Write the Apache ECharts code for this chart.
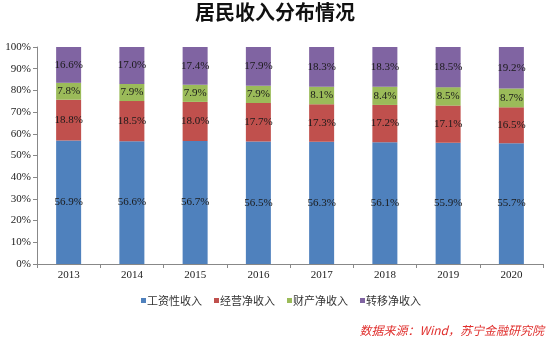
<!DOCTYPE html>
<html><head><meta charset="utf-8">
<script src="https://cdn.jsdelivr.net/npm/echarts@6/dist/echarts.min.js"></script>
<style>html,body{margin:0;padding:0;background:#fff}#c{width:550px;height:339px}</style>
</head><body><div id="c"></div>
<script>
var years = ['2013','2014','2015','2016','2017','2018','2019','2020'];
var wage = [56.9,56.6,56.7,56.5,56.3,56.1,55.9,55.7];
var business = [18.8,18.5,18.0,17.7,17.3,17.2,17.1,16.5];
var property = [7.8,7.9,7.9,7.9,8.1,8.4,8.5,8.7];
var transfer = [16.6,17.0,17.4,17.9,18.3,18.3,18.5,19.2];
var names = ['工资性收入','经营净收入','财产净收入','转移净收入'];
var colors = ['#4F81BD','#C0504D','#9BBB59','#8064A2'];
var yTicks = [0,10,20,30,40,50,60,70,80,90,100];

var chart = echarts.init(document.getElementById('c'));
function mk(i, data){
  return {name:names[i], type:'bar', stack:'t', data:data, barWidth:25,
    itemStyle:{color:colors[i]},
    label:{show:true, position:'inside', formatter:function(p){return p.value.toFixed(1)+'%';},
      color:'#1a1a1a', fontFamily:'Liberation Serif', fontSize:11}};
}
chart.setOption({
  animation:false,
  title:{text:'居民收入分布情况', left:190, top:-3,
    textStyle:{fontFamily:'Noto Sans CJK SC', fontWeight:'bold', fontSize:20, color:'#111'}},
  legend:{data:names, top:290, left:136, itemWidth:5, itemHeight:5, itemGap:12,
    icon:'rect', textStyle:{fontFamily:'Noto Sans CJK SC', fontSize:11, color:'#333', padding:[0,0,0,-4]}},
  grid:{left:37, right:7, top:47, bottom:75},
  xAxis:{type:'category', data:years,
    axisLine:{lineStyle:{color:'#888'}},
    axisTick:{show:true, length:4, lineStyle:{color:'#888'}},
    axisLabel:{fontFamily:'Liberation Serif', fontSize:11, color:'#222', margin:6}},
  yAxis:{type:'value', min:0, max:100, interval:10,
    axisLine:{show:true, lineStyle:{color:'#888'}},
    axisTick:{show:true, length:4, lineStyle:{color:'#888'}},
    splitLine:{show:false},
    axisLabel:{fontFamily:'Liberation Serif', fontSize:11, color:'#222', margin:6,
      formatter:function(v){return v+'%';}}},
  graphic:[{type:'text', right:6, bottom:3,
    style:{text:'数据来源：Wind，苏宁金融研究院', fill:'#E0302E',
      font:'italic 12px "Noto Sans CJK SC"'}}],
  series:[mk(0,wage),mk(1,business),mk(2,property),mk(3,transfer)]
});
</script></body></html>
